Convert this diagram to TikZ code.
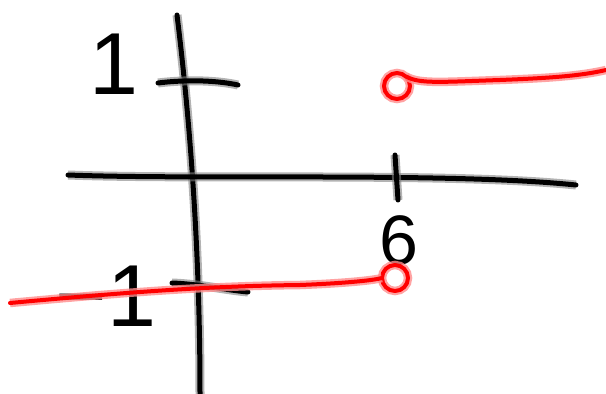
\documentclass[tikz,border=0pt]{standalone}
\usepackage{fontspec}
\setmainfont{Liberation Sans}
\begin{document}
\begin{tikzpicture}[x=1pt,y=-1pt,
    ink/.style={line width=5pt, line cap=round, line join=round,
                preaction={draw, gray, opacity=0.6, line width=9pt}},
    redink/.style={line width=4pt, red, line cap=round, line join=round,
                   preaction={draw, red!45, opacity=0.8, line width=8.5pt}},
    numlabel/.style={inner sep=0pt, font=\fontsize{#1}{#1}\selectfont},
    numlabel/.default=90pt
]

% canvas
\useasboundingbox (0,0) rectangle (606,394);

% circle radius
\def\holer{13}

% --- AXES ---
\coordinate (ytop) at (177,15);
\coordinate (ybot) at (200,394);
\coordinate (xleft) at (68,175);
\coordinate (xright) at (576,185);

\draw[ink] (ytop) .. controls (190,120) and (200,250) .. (ybot);
\draw[ink] (xleft) .. controls (200,180) and (450,172) .. (xright);

% --- TICKS ---
\draw[ink] (158,83) .. controls (190,79) and (220,81) .. (238,85);
\draw[ink] (172,283) .. controls (200,284) and (225,290) .. (248,292);
\draw[ink] (395,155) -- (398,200);

% --- LABELS ---
\node[numlabel=88pt] (one) at (114,64) {1};
\node[numlabel=70pt] (six) at (399,240) {6};
\node[numlabel=88pt, anchor=center] (mone) at (106,296) {−1};

% --- STEP FUNCTION ---
\node[circle, minimum size=2*\holer pt, inner sep=0pt] (holeA) at (397,86) {};
\node[circle, minimum size=2*\holer pt, inner sep=0pt] (holeB) at (395,278) {};
\coordinate (rightend) at (606,70);
\coordinate (leftend) at (10,303);

\draw[redink] (holeA.center) circle (\holer);
\draw[redink] (holeB.center) circle (\holer);
\draw[redink] (holeA.north east) .. controls (420,84) and (440,82) .. (500,80)
              .. controls (550,78) and (580,76) .. (rightend);
\draw[redink] (leftend) .. controls (150,290) and (220,286) .. (300,285)
              .. controls (350,283) and (375,280) .. (holeB.west);

\end{tikzpicture}
\end{document}
